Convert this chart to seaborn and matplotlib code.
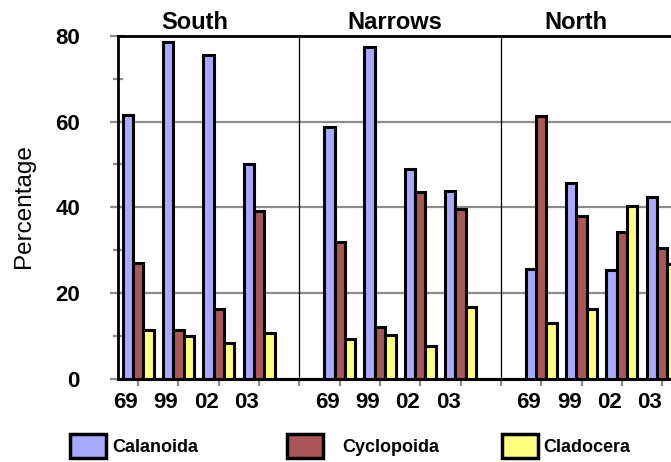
import matplotlib
matplotlib.use("Agg")
import matplotlib.pyplot as plt
from matplotlib.patches import Patch
from matplotlib.ticker import FixedLocator
import pandas as pd
import seaborn as sns

regions = ["South", "Narrows", "North"]
years = ["69", "99", "02", "03"]
taxa = ["Calanoida", "Cyclopoida", "Cladocera"]

# Percentage of each zooplankton group, per region, years 69, 99, 02, 03
calanoida = {
    "South":   [61.6, 78.6, 75.4, 50.0],
    "Narrows": [58.8, 77.4, 48.9, 43.8],
    "North":   [25.6, 45.7, 25.5, 42.5],
}
cyclopoida = {
    "South":   [27.1, 11.4, 16.3, 39.2],
    "Narrows": [31.9, 12.2, 43.6, 39.6],
    "North":   [61.2, 38.0, 34.3, 30.5],
}
cladocera = {
    "South":   [11.4, 10.0, 8.3, 10.8],
    "Narrows": [9.3, 10.3, 7.6, 16.7],
    "North":   [13.1, 16.3, 40.2, 26.7],
}

colors = ["#a9a9ff", "#a95757", "#ffff80"]

# long table; each region occupies 5 slots (4 years + a spacer)
rows = []
for taxon, table in zip(taxa, [calanoida, cyclopoida, cladocera]):
    for ri, region in enumerate(regions):
        for yi, year in enumerate(years):
            rows.append({"region": region, "year": year, "taxon": taxon,
                         "slot": ri * 5 + yi, "value": table[region][yi]})
df = pd.DataFrame(rows)

sns.set_style("white")
plt.rcParams["font.family"] = ["Liberation Sans", "DejaVu Sans"]
plt.rcParams["text.color"] = "black"
plt.rcParams["axes.labelcolor"] = "black"
plt.rcParams["xtick.labelcolor"] = "black"
plt.rcParams["ytick.labelcolor"] = "black"

fig = plt.figure(figsize=(6.71, 4.62), dpi=100)
ax = fig.add_axes([118 / 671, 83 / 462, 553 / 671, (379 - 35.7) / 462])

sns.barplot(data=df, x="slot", y="value", hue="taxon", hue_order=taxa,
            palette=colors, native_scale=True, width=0.77, saturation=1,
            edgecolor="black", linewidth=2.2, errorbar=None, legend=False,
            ax=ax, zorder=3)

ax.set_xlim(-0.5, 13.22)
ax.set_ylim(0, 80)
ax.set_xlabel("")
ax.set_ylabel("")

# region separators
ax.vlines([4, 9], 0, 80, color="black", lw=0.9, zorder=2)

# y axis
ax.yaxis.set_major_locator(FixedLocator([0, 20, 40, 60, 80]))
ax.yaxis.set_minor_locator(FixedLocator([10, 30, 50, 70]))
ax.set_yticklabels(["0", "20", "40", "60", "80"], fontweight="bold")
ax.tick_params(axis="y", which="major", direction="inout", length=12,
               width=1.6, color="#8c8c8c", labelcolor="black",
               labelsize=16, pad=21.4, left=True)
ax.tick_params(axis="y", which="minor", direction="inout", length=7,
               width=1.6, color="#8c8c8c", left=True)
ax.yaxis.grid(True, color="#8c8c8c", lw=1.6, zorder=0)
ax.xaxis.grid(False)
ax.set_axisbelow(True)

# x axis: year ticks plus spacer ticks
slots = list(range(14))
labels = []
for s in slots:
    r, y = divmod(s, 5)
    labels.append(years[y] if y < 4 else "")
ax.set_xticks(slots)
ax.set_xticklabels(labels, fontweight="bold", ha="right")
ax.tick_params(axis="x", direction="out", length=5, width=1.6,
               color="#8c8c8c", labelcolor="black", labelsize=16,
               pad=4.4, bottom=True)

for side in ["left", "top"]:
    ax.spines[side].set_color("black")
    ax.spines[side].set_linewidth(2)
ax.spines["bottom"].set_color("black")
ax.spines["bottom"].set_linewidth(2.2)
ax.spines["right"].set_visible(False)

# region titles
for name, xc in zip(regions, [195, 394.5, 576]):
    fig.text(xc / 671, 1 - 29 / 462, name, ha="center", va="baseline",
             fontsize=17, fontweight="bold", color="black")

fig.text(24 / 671, 1 - 206 / 462, "Percentage", rotation=90,
         ha="center", va="center", fontsize=17.5, color="black")

# legend entries
for taxon, col, x0, tpad in zip(taxa, colors, [70, 287, 502],
                                [0.33, 1.05, 0.28]):
    fig.legend(handles=[Patch(facecolor=col, edgecolor="black", lw=2.5,
                              label=taxon)],
               loc="center left", bbox_to_anchor=(x0 / 671, 1 - 446 / 462),
               frameon=False, prop={"size": 13, "weight": "bold"},
               labelcolor="black",
               handlelength=2.0, handleheight=1.72, handletextpad=tpad,
               borderpad=0, borderaxespad=0)

fig.savefig("out.png", dpi=100)
